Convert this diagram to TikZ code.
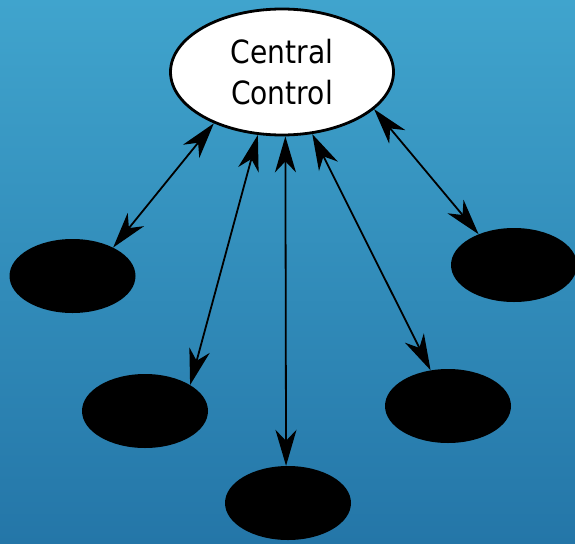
\documentclass[tikz,border=0pt]{standalone}
\usepackage{fontspec}
\setmainfont{DejaVu Sans}[FakeStretch=0.88]
\usetikzlibrary{shapes.geometric,arrows.meta}
\definecolor{bgtop}{RGB}{64,164,205}
\definecolor{bgbottom}{RGB}{36,118,168}
\begin{document}
\begin{tikzpicture}[x=1pt,y=-1pt,
  hub/.style={ellipse, draw=black, line width=2.8pt, fill=white, inner sep=0pt,
    minimum width=223pt, minimum height=126pt, align=center,
    font=\fontsize{32}{41}\selectfont},
  leaf/.style={ellipse, fill=black, inner sep=0pt,
    minimum width=126pt, minimum height=74pt},
  link/.style={line width=1.8pt,
    {Stealth[length=36pt,width=21pt,inset=11pt]}-{Stealth[length=36pt,width=21pt,inset=11pt]}}]
% background
\useasboundingbox (0,0) rectangle (575,543);
\shade[top color=bgtop, bottom color=bgbottom] (0,0) rectangle (575,543);
% hub and satellites
\node[hub] (c) at (282,72) {Central\\Control};
\node[leaf] (a) at (72.5,276) {};
\node[leaf] (b) at (145,411) {};
\node[leaf] (d) at (288,503) {};
\node[leaf] (e) at (448,406) {};
\node[leaf] (f) at (514,265) {};
% two-way links
\draw[link] (c.217.8) -- (a.35.6);
\draw[link] (c.249.1) -- (b.30);
\draw[link] (c.273.5) -- (d.93);
\draw[link] (c.296.2) -- (e.116);
\draw[link] (c.338.4) -- (f.139.4);
\end{tikzpicture}
\end{document}
